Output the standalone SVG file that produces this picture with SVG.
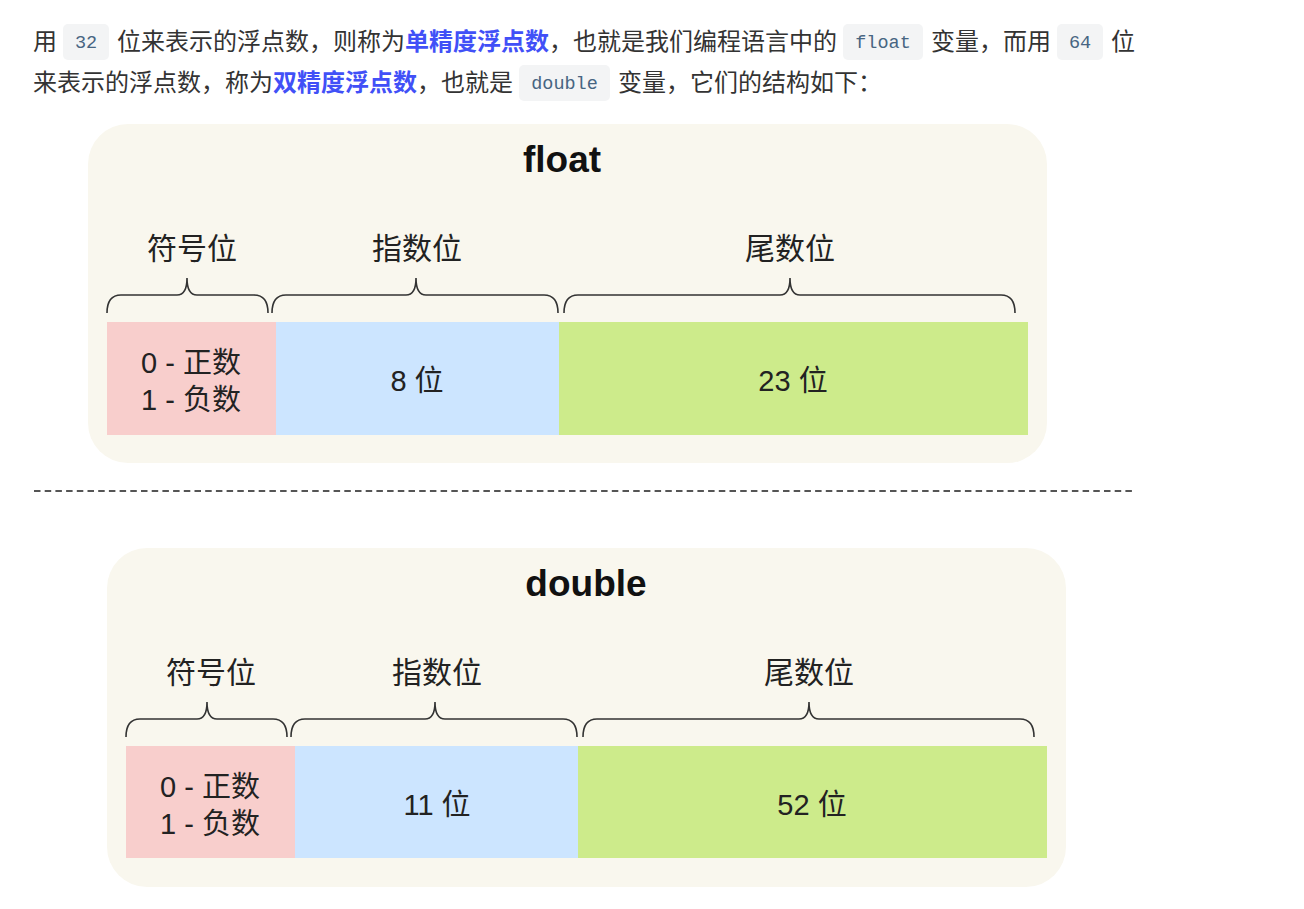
<svg xmlns="http://www.w3.org/2000/svg" width="1304" height="909" viewBox="0 0 1304 909">
<style>
.p{font-family:"Noto Sans CJK SC","Liberation Sans",sans-serif;font-size:24px;fill:#333}
.em{font-weight:bold;fill:#4150f7}
.chip{fill:#f3f4f5}
.code{font-family:"Liberation Mono",monospace;font-size:18.5px;fill:#476582;text-anchor:middle}
.panel{fill:#f9f7ee}
.title{font-family:"Liberation Sans","Noto Sans CJK SC",sans-serif;font-weight:bold;font-size:37px;fill:#111;text-anchor:middle}
.lab{font-family:"Liberation Sans","Noto Sans CJK SC",sans-serif;font-size:30px;fill:#222;text-anchor:middle}
.cell{font-family:"Liberation Sans","Noto Sans CJK SC",sans-serif;font-size:29px;fill:#222;text-anchor:middle}
.brace{fill:none;stroke:#333;stroke-width:1.6}
.sign{fill:#f8cecc}
.exp{fill:#cce5ff}
.man{fill:#cdeb8b}
</style>
<rect width="1304" height="909" fill="#ffffff"/>
<g id="intro">
  <rect class="chip" x="63" y="24" width="46" height="36" rx="5"/>
  <rect class="chip" x="843" y="24" width="80" height="36" rx="5"/>
  <rect class="chip" x="1057" y="24" width="46" height="36" rx="5"/>
  <rect class="chip" x="519" y="65" width="91" height="36" rx="5"/>
  <text class="p" x="33" y="50">用</text>
  <text class="code" x="86" y="48">32</text>
  <text class="p" x="117" y="50">位来表示的浮点数，则称为</text>
  <text class="p em" x="405" y="50">单精度浮点数</text>
  <text class="p" x="549" y="50">，也就是我们编程语言中的</text>
  <text class="code" x="883" y="48">float</text>
  <text class="p" x="931" y="50">变量，而用</text>
  <text class="code" x="1080" y="48">64</text>
  <text class="p" x="1111" y="50">位</text>
  <text class="p" x="33" y="91">来表示的浮点数，称为</text>
  <text class="p em" x="273" y="91">双精度浮点数</text>
  <text class="p" x="417" y="91">，也就是</text>
  <text class="code" x="564.5" y="89">double</text>
  <text class="p" x="618" y="91">变量，它们的结构如下：</text>
</g>
<g id="float">
  <rect class="panel" x="88" y="124" width="959" height="339" rx="40"/>
  <text class="title" x="562" y="172">float</text>
  <text class="lab" x="192" y="259">符号位</text>
  <text class="lab" x="417" y="259">指数位</text>
  <text class="lab" x="790" y="259">尾数位</text>
  <g id="float-sign"><rect class="sign" x="107" y="322" width="169" height="113"/>
    <text class="cell" x="191" y="373">0 - 正数</text>
    <text class="cell" x="191" y="410">1 - 负数</text></g>
  <g id="float-exp"><rect class="exp" x="276" y="322" width="283" height="113"/>
    <text class="cell" x="417" y="391">8 位</text></g>
  <g id="float-man"><rect class="man" x="559" y="322" width="469" height="113"/>
    <text class="cell" x="793" y="391">23 位</text></g>
</g>
<g id="double">
  <rect class="panel" x="107" y="548" width="959" height="339" rx="40"/>
  <text class="title" x="586" y="596">double</text>
  <text class="lab" x="211" y="683">符号位</text>
  <text class="lab" x="437" y="683">指数位</text>
  <text class="lab" x="809" y="683">尾数位</text>
  <g id="double-sign"><rect class="sign" x="126" y="746" width="169" height="112"/>
    <text class="cell" x="210" y="797">0 - 正数</text>
    <text class="cell" x="210" y="834">1 - 负数</text></g>
  <g id="double-exp"><rect class="exp" x="295" y="746" width="283" height="112"/>
    <text class="cell" x="437" y="815">11 位</text></g>
  <g id="double-man"><rect class="man" x="578" y="746" width="469" height="112"/>
    <text class="cell" x="812" y="815">52 位</text></g>
</g>
<g id="connectors">
  <path class="brace" d="M107,313 Q107,295 121,295 H177 Q187,295 187,278 Q187,295 197,295 H254 Q268,295 268,313"/>
  <path class="brace" d="M272,313 Q272,295 286,295 H406 Q416,295 416,278 Q416,295 426,295 H544 Q558,295 558,313"/>
  <path class="brace" d="M564,313 Q564,295 578,295 H780 Q790,295 790,278 Q790,295 800,295 H1001 Q1015,295 1015,313"/>
  <path class="brace" d="M126,737 Q126,719 140,719 H197 Q207,719 207,702 Q207,719 217,719 H273 Q287,719 287,737"/>
  <path class="brace" d="M291,737 Q291,719 305,719 H425 Q435,719 435,702 Q435,719 445,719 H563 Q577,719 577,737"/>
  <path class="brace" d="M583,737 Q583,719 597,719 H799 Q809,719 809,702 Q809,719 819,719 H1020 Q1034,719 1034,737"/>
  <line x1="34" y1="491" x2="1136" y2="491" stroke="#555" stroke-width="2" stroke-dasharray="6.5,4.2"/>
</g>
</svg>
